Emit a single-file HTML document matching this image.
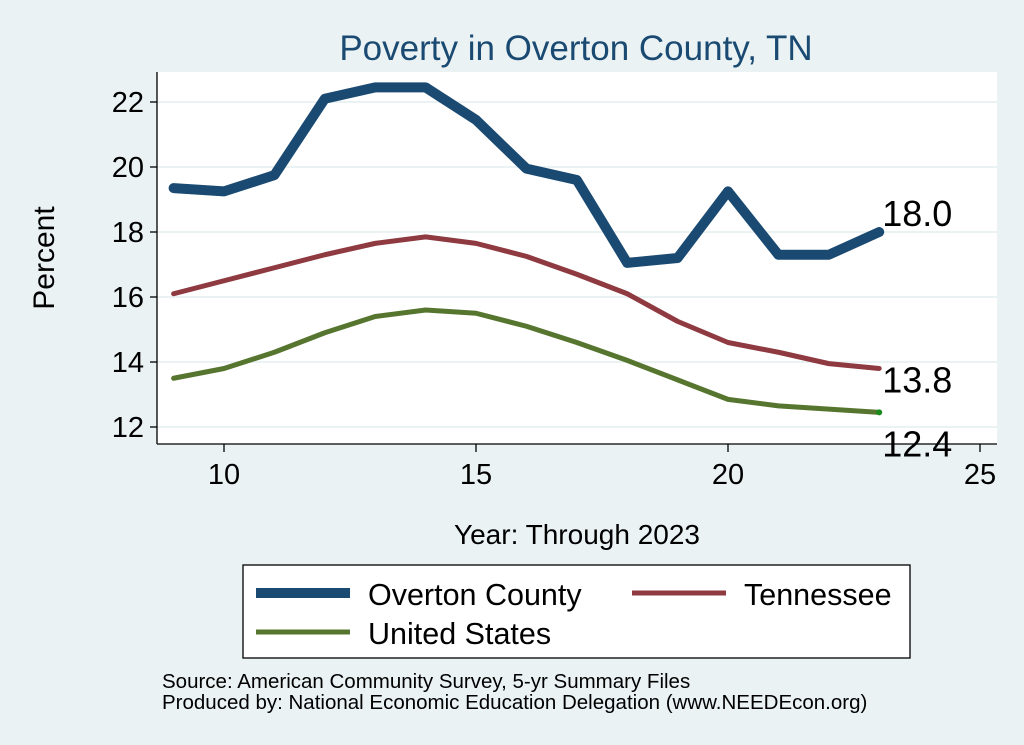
<!DOCTYPE html>
<html><head><meta charset="utf-8"><style>
body{margin:0;background:#eaf2f3;}
svg{display:block;font-family:"Liberation Sans",Arial,sans-serif;}
</style></head><body>
<svg id="chart" width="1024" height="745">
<rect x="0" y="0" width="1024" height="745" fill="#eaf2f3"/>
<text x="576" y="60" font-size="35" fill="#1a4a72" text-anchor="middle">Poverty in Overton County, TN</text>
<rect x="157" y="72" width="840" height="372" fill="#fff"/>
<g id="grid"></g>
<g id="series"></g>
<line x1="157" y1="72" x2="157" y2="444" stroke="#000" stroke-width="1.3"/>
<line x1="157" y1="444" x2="997" y2="444" stroke="#000" stroke-width="1.3"/>
<g id="ticks"></g>
<text x="54" y="258" font-size="30" text-anchor="middle" transform="rotate(-90 54 258)">Percent</text>
<text x="577" y="544" font-size="28" text-anchor="middle">Year: Through 2023</text>
<g>
<rect x="243" y="565" width="667" height="93" fill="#fff" stroke="#000" stroke-width="1.3"/>
<line x1="256" y1="593" x2="350" y2="593" stroke="#1a4a72" stroke-width="10"/>
<text x="368" y="605" font-size="30.5">Overton County</text>
<line x1="632" y1="593" x2="726" y2="593" stroke="#8e3a40" stroke-width="5"/>
<text x="744" y="605" font-size="30.5">Tennessee</text>
<line x1="256" y1="632" x2="350" y2="632" stroke="#56752f" stroke-width="5"/>
<text x="368" y="644" font-size="30.5">United States</text>
</g>
<text x="162" y="688" font-size="20.5">Source: American Community Survey, 5-yr Summary Files</text>
<text x="162" y="709" font-size="20.5">Produced by: National Economic Education Delegation (www.NEEDEcon.org)</text>
</svg>
<script>
const years=[9,10,11,12,13,14,15,16,17,18,19,20,21,22,23];
const overton=[19.35,19.25,19.75,22.1,22.45,22.45,21.45,19.95,19.6,17.05,17.2,19.25,17.3,17.3,18.0];
const tennessee=[16.1,16.5,16.9,17.3,17.65,17.85,17.65,17.25,16.7,16.1,15.25,14.6,14.3,13.95,13.8];
const unitedStates=[13.5,13.8,14.3,14.9,15.4,15.6,15.5,15.1,14.6,14.05,13.45,12.85,12.65,12.55,12.45];
const xTicks=[10,15,20,25];
const yTicks=[12,14,16,18,20,22];
const endLabels=["18.0","13.8","12.4"];
const NS="http://www.w3.org/2000/svg";
function X(v){return 224+(v-10)*50.4;}
function Y(v){return 427-(v-12)*32.5;}
function mk(t,a){const e=document.createElementNS(NS,t);for(const k in a)e.setAttribute(k,a[k]);return e;}
const grid=document.getElementById('grid'),ticks=document.getElementById('ticks'),ser=document.getElementById('series');
yTicks.forEach(v=>{
 const g=mk('line',{x1:157,x2:997,y1:Y(v),y2:Y(v),stroke:'#eaf2f3','stroke-width':2});
 
 
 grid.appendChild(g);
 const t=mk('line',{x1:150,x2:157,y1:Y(v),y2:Y(v),stroke:'#000','stroke-width':1.3});
 
 
 ticks.appendChild(t);
 const l=mk('text',{x:144,y:Y(v)+10,'font-size':29,'text-anchor':'end'});l.textContent=v;
 
 
 ticks.appendChild(l);
});
xTicks.forEach(v=>{
 const t=mk('line',{x1:X(v),x2:X(v),y1:444,y2:452,stroke:'#000','stroke-width':1.3});
 
 
 ticks.appendChild(t);
 const l=mk('text',{x:X(v),y:484,'font-size':29,'text-anchor':'middle'});l.textContent=v;
 
 
 ticks.appendChild(l);
});
const defs=[[unitedStates,'#56752f',5,'line-united-states'],[tennessee,'#8e3a40',5,'line-tennessee'],[overton,'#1a4a72',10,'line-overton']];
defs.forEach(([d,c,w,n])=>{
 const p=mk('polyline',{points:d.map((v,i)=>X(years[i])+','+Y(v)).join(' '),fill:'none',stroke:c,'stroke-width':w,'stroke-linejoin':'round','stroke-linecap':'round'});
 
 
 ser.appendChild(p);
});
const last=years.length-1;
const dot=mk('circle',{cx:X(years[last]),cy:Y(unitedStates[last]),r:3,fill:'#1a8a1a'});


ser.appendChild(dot);
[[overton,-6],[tennessee,24],[unitedStates,44]].forEach(([d,dy],i)=>{
 const l=mk('text',{x:X(years[last])+3,y:Y(d[last])+dy,'font-size':36});l.textContent=endLabels[i];
 
 
 ser.appendChild(l);
});
</script>
</body></html>
